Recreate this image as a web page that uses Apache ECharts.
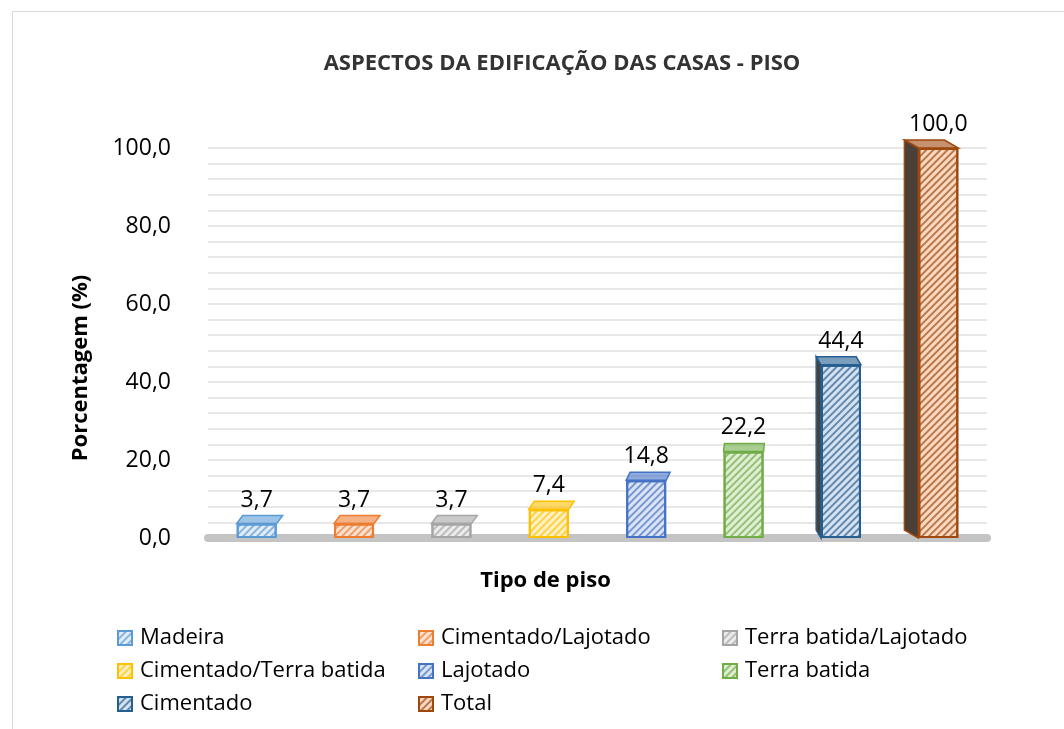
<!DOCTYPE html>
<html>
<head>
<meta charset="utf-8">
<script src="https://cdn.jsdelivr.net/npm/echarts@6/dist/echarts.min.js"></script>
<style>
  html, body { margin: 0; padding: 0; background: #fff; }
  #main { width: 1064px; height: 729px; }
</style>
</head>
<body>
<div id="main"></div>
<script>
// tipos de piso e percentuais
var tipos = ["Madeira", "Cimentado/Lajotado", "Terra batida/Lajotado", "Cimentado/Terra batida",
  "Lajotado", "Terra batida", "Cimentado", "Total"];
var valores = [3.7, 3.7, 3.7, 7.4, 14.8, 22.2, 44.4, 100.0];
var yTicks = [0, 20, 40, 60, 80, 100];

var cores = ["#5b9bd5", "#ed7d31", "#a5a5a5", "#ffc000", "#4472c4", "#70ad47", "#255e91", "#9e480e"];
var fundos = ["#e3edf8", "#fbe3d4", "#ececec", "#fff1c6", "#dce4f4", "#e0eed6", "#d6e2ef", "#fbd9c2"];

var myChart = echarts.init(document.getElementById("main"));
var font = "'Open Sans', 'Noto Sans', sans-serif";

function fmt(v) {
  return Number(v).toFixed(1).replace(".", ",");
}

var series = [];
for (var i = 0; i < tipos.length; i++) {
  var data = [];
  for (var j = 0; j < tipos.length; j++) {
    data.push(j === i ? valores[i] : "-");
  }
  series.push({
    name: tipos[i],
    type: "bar",
    stack: "piso",
    barWidth: 40,
    data: data,
    itemStyle: {
      color: fundos[i],
      borderColor: cores[i],
      borderWidth: 2,
      decal: {
        symbol: "rect",
        symbolSize: 1,
        dashArrayX: [1, 0],
        dashArrayY: [2, 3],
        rotation: -Math.PI / 4,
        color: cores[i] + "aa",
      },
    },
    label: {
      show: true,
      position: "top",
      distance: 12,
      color: "#000",
      fontFamily: font,
      fontSize: 23,
      formatter: function (p) {
        return fmt(p.value);
      },
    },
  });
}

// topo e lateral "3D" de cada barra
series.push({
  type: "custom",
  z: 3,
  silent: true,
  data: valores.map(function (v, k) { return [k, v]; }),
  renderItem: function (params, api) {
    var k = api.value(0);
    var top = api.coord([k, api.value(1)]);
    var base = api.coord([k, 0]);
    var x0 = top[0] - 20, x1 = top[0] + 20;
    var yt = top[1], yb = base[1];
    var t = (top[0] - 257) / 682;
    var dx = 6 - 20 * Math.pow(Math.max(t, 0), 4);
    var dy = -8;
    var children = [
      {
        type: "polygon",
        shape: { points: [[x0, yt], [x1, yt], [x1 + dx, yt + dy], [x0 + dx, yt + dy]] },
        style: { fill: cores[k] + "99", stroke: cores[k], lineWidth: 1.5 },
      },
    ];
    if (dx < 0) {
      children.push({
        type: "polygon",
        shape: { points: [[x0, yt], [x0, yb], [x0 + dx, yb + dy], [x0 + dx, yt + dy]] },
        style: { fill: "#4a4038", stroke: cores[k], lineWidth: 1.5 },
      });
    }
    return { type: "group", children: children };
  },
});

function legendBox(names, left) {
  return {
    orient: "vertical",
    left: left,
    top: 622,
    itemWidth: 14,
    itemHeight: 14,
    itemGap: 11,
    icon: "rect",
    data: names,
    textStyle: { color: "#000", fontFamily: font, fontSize: 22, padding: [0, 0, 0, 3] },
  };
}

var option = {
  animation: false,
  title: {
    text: "ASPECTOS DA EDIFICAÇÃO DAS CASAS - PISO",
    left: 557,
    textAlign: "center",
    top: 48,
    textStyle: { color: "#333", fontFamily: font, fontSize: 22, fontWeight: "bold" },
  },
  legend: [
    legendBox(["Madeira", "Cimentado/Terra batida", "Cimentado"], 112),
    legendBox(["Cimentado/Lajotado", "Lajotado", "Total"], 413),
    legendBox(["Terra batida/Lajotado", "Terra batida"], 717),
  ],
  grid: { left: 208, right: 77, top: 148, bottom: 191 },
  xAxis: {
    type: "category",
    data: tipos,
    name: "Tipo de piso",
    nameLocation: "middle",
    nameGap: 32,
    nameTextStyle: {
      color: "#000", fontFamily: font, fontSize: 22, fontWeight: "bold",
      padding: [0, 104, 0, 0],
    },
    axisLine: { lineStyle: { color: "#c4c4c4", width: 8 } },
    axisTick: { show: false },
    axisLabel: { show: false },
  },
  yAxis: {
    type: "value",
    min: yTicks[0],
    max: yTicks[yTicks.length - 1],
    interval: 20,
    name: "Porcentagem (%)",
    nameLocation: "middle",
    nameGap: 116,
    nameTextStyle: {
      color: "#000", fontFamily: font, fontSize: 22, fontWeight: "bold",
      padding: [0, 50, 0, 0],
    },
    axisLine: { show: false },
    axisTick: { show: false },
    axisLabel: {
      color: "#000",
      fontFamily: font,
      fontSize: 23,
      margin: 37,
      formatter: fmt,
    },
    splitLine: { lineStyle: { color: "#e8e8e8", width: 2 } },
    minorTick: { show: false, splitNumber: 5 },
    minorSplitLine: { show: true, lineStyle: { color: "#e8e8e8", width: 2 } },
  },
  graphic: [
    {
      type: "rect",
      left: 10,
      top: 9,
      shape: { width: 1100, height: 800 },
      style: { fill: "none", stroke: "#d9d9d9", lineWidth: 1 },
      silent: true,
    },
  ],
  series: series,
};

myChart.setOption(option);
</script>
</body>
</html>
